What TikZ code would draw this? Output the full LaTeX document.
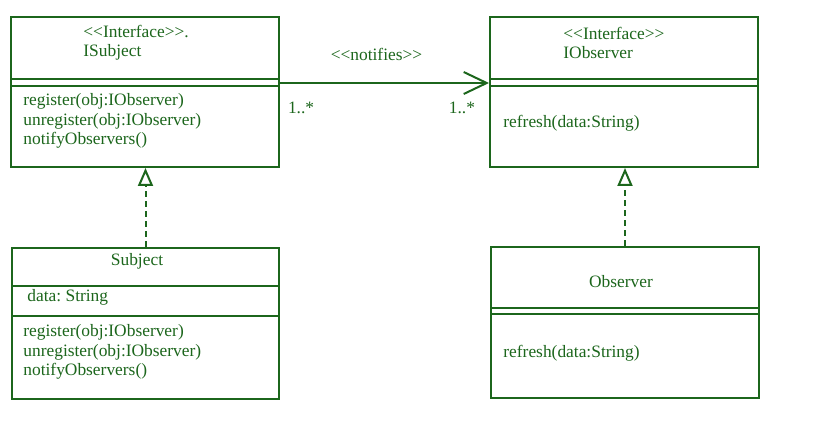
\documentclass[tikz,border=0pt]{standalone}
\usepackage{fontspec}
\setmainfont{Liberation Serif}
\usetikzlibrary{arrows.meta,positioning,calc}

\definecolor{umlgreen}{RGB}{28,102,28}
\newcommand{\stereo}[1]{<{}<#1>{}>}
\frenchspacing

\begin{document}
\begin{tikzpicture}[x=0.5pt, y=-0.5pt,
    umlbox/.style={draw=umlgreen, line width=1pt, rectangle, inner sep=0pt, anchor=north west},
    umlline/.style={draw=umlgreen, line width=1pt},
    umltext/.style={text=umlgreen, inner sep=0pt, align=left, font=\fontsize{8.7pt}{9.7pt}\selectfont},
    realize/.style={draw=umlgreen, line width=1pt, dash pattern=on 3pt off 2pt,
        -{Triangle[length=9pt, width=7.5pt, fill=white]}},
    assoc/.style={draw=umlgreen, line width=1pt, -{Straight Barb[length=11.5pt, width=11pt]}}]
    \path[use as bounding box, fill=white] (0,0) rectangle (819,422);

    % ISubject
    \node[umlbox, minimum width=134pt, minimum height=75pt] (isubject) at (10,16) {};
    \draw[umlline] ([yshift=-31.5pt]isubject.north west) -- ([yshift=-31.5pt]isubject.north east);
    \draw[umlline] ([yshift=-35pt]isubject.north west) -- ([yshift=-35pt]isubject.north east);
    \node[umltext, anchor=west] (isubjecthead) at (83,43) {\stereo{Interface}.\\ISubject};
    \node[umltext, anchor=west] (isubjectops) at (23,121)
        {register(obj:IObserver)\\unregister(obj:IObserver)\\notifyObservers()};

    % IObserver
    \node[umlbox, minimum width=134pt, minimum height=75pt] (iobserver) at (489,16) {};
    \draw[umlline] ([yshift=-31.5pt]iobserver.north west) -- ([yshift=-31.5pt]iobserver.north east);
    \draw[umlline] ([yshift=-35pt]iobserver.north west) -- ([yshift=-35pt]iobserver.north east);
    \node[umltext, anchor=west] (iobserverhead) at (563,43) {\stereo{Interface}\\IObserver};
    \node[umltext, anchor=west] (iobserverops) at (503,123) {refresh(data:String)};

    % Subject
    \node[umlbox, minimum width=133.5pt, minimum height=75.5pt] (subject) at (11,247) {};
    \draw[umlline] ([yshift=-19.5pt]subject.north west) -- ([yshift=-19.5pt]subject.north east);
    \draw[umlline] ([yshift=-34.5pt]subject.north west) -- ([yshift=-34.5pt]subject.north east);
    \node[umltext] (subjecthead) at (137,261) {Subject};
    \node[umltext, anchor=west] (subjectattr) at (27,297) {data: String};
    \node[umltext, anchor=west] (subjectops) at (23,352)
        {register(obj:IObserver)\\unregister(obj:IObserver)\\notifyObservers()};

    % Observer
    \node[umlbox, minimum width=134pt, minimum height=75.5pt] (observer) at (490,246) {};
    \draw[umlline] ([yshift=-31pt]observer.north west) -- ([yshift=-31pt]observer.north east);
    \draw[umlline] ([yshift=-34pt]observer.north west) -- ([yshift=-34pt]observer.north east);
    \node[umltext] (observerhead) at (621,282) {Observer};
    \node[umltext, anchor=west] (observerops) at (503,353) {refresh(data:String)};

    % notifies
    \draw[assoc] ([yshift=-33.5pt]isubject.north east)
        -- node[umltext, midway, above=10.5pt, xshift=-4pt] (notifies) {\stereo{notifies}}
           node[umltext, pos=0, anchor=north west, xshift=3.5pt, yshift=-9pt] (multleft) {1..*}
           node[umltext, pos=1, anchor=north east, xshift=-6.5pt, yshift=-9pt] (multright) {1..*}
        ([yshift=-33.5pt]iobserver.north west);

    % realizations
    \draw[realize] (subject.north) -- (subject.north |- isubject.south);
    \draw[realize] (observer.north) -- (observer.north |- iobserver.south);
\end{tikzpicture}
\end{document}
